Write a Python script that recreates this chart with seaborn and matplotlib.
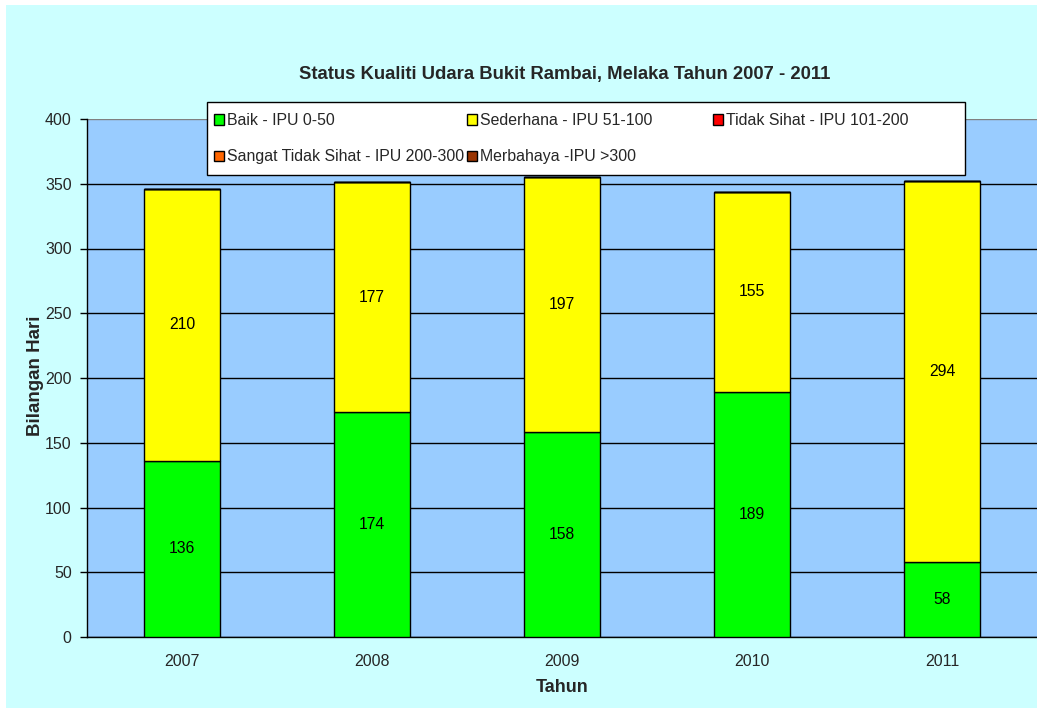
import matplotlib
matplotlib.use("Agg")
import matplotlib.pyplot as plt
import matplotlib.patches as mpatches
import numpy as np
import seaborn as sns

years = ["2007", "2008", "2009", "2010", "2011"]
baik = [136, 174, 158, 189, 58]
sederhana = [210, 177, 197, 155, 294]
tidak_sihat = [0, 0, 0, 0, 0]
sangat_tidak_sihat = [0, 0, 0, 0, 0]
merbahaya = [0, 0, 0, 0, 0]

series_names = ["Baik - IPU 0-50", "Sederhana - IPU 51-100", "Tidak Sihat - IPU 101-200",
                "Sangat Tidak Sihat - IPU 200-300", "Merbahaya -IPU >300"]
series_values = [baik, sederhana, tidak_sihat, sangat_tidak_sihat, merbahaya]
series_colors = ["#00FF00", "#FFFF00", "#FF0000", "#FF6600", "#993300"]

sns.set_style("white")
plt.rcParams['font.family'] = ['Liberation Sans', 'DejaVu Sans']

W, H = 1037, 708
fig = plt.figure(figsize=(W / 100, H / 100), dpi=100, facecolor="white")
# cyan chart area (white strip on top/left edges)
fig.patches.append(mpatches.Rectangle((6 / W, 0), 1 - 6 / W, 1 - 5 / H,
                                      transform=fig.transFigure, facecolor="#CCFFFF",
                                      edgecolor="none", zorder=-10))
ax = fig.add_axes([87 / W, 71 / H, 950 / W, 518 / H])
ax.set_facecolor("#99CCFF")

bottom = np.zeros(len(years))
for name, vals, col in zip(series_names, series_values, series_colors):
    vals = np.array(vals, dtype=float)
    sns.barplot(x=years, y=vals, bottom=bottom, color=col, width=0.4,
                edgecolor="black", linewidth=1.0, saturation=1, ax=ax, zorder=3)
    cont = ax.containers[-1]
    if vals.sum() > 0:
        ax.bar_label(cont, labels=[str(int(v)) for v in vals], label_type="center",
                     fontsize=11.3, color="black")
    bottom = bottom + vals

ax.set_ylim(0, 400)
ax.set_xlim(-0.5, len(years) - 0.5)
ax.set_yticks(np.arange(0, 401, 50))
ax.yaxis.grid(True, color="black", linewidth=1)
ax.set_axisbelow(True)
gl = ax.yaxis.get_gridlines()
gl[-1].set_color("#808080")

ax.set_xticks(np.arange(-0.5, len(years), 1.0), minor=True)
ax.tick_params(axis="x", which="major", length=0, labelsize=11.5, pad=12)
ax.tick_params(axis="x", which="minor", length=5, width=1, color="black", direction="out")
ax.tick_params(axis="y", length=5, width=1, color="black", direction="out", labelsize=11.5,
               left=True, pad=6)
for s in ["top", "right"]:
    ax.spines[s].set_visible(False)
for s in ["left", "bottom"]:
    ax.spines[s].set_color("black")
    ax.spines[s].set_linewidth(1)

ax.set_xlabel("")
ax.set_ylabel("")
fig.text(562 / W, 1 - 688 / H, "Tahun", ha="center", va="center",
         fontsize=13, fontweight="bold")
fig.text(36 / W, 1 - 376 / H, "Bilangan Hari", ha="center", va="center", rotation=90,
         fontsize=13.5, fontweight="bold")
fig.text(565 / W, 1 - 75 / H, "Status Kualiti Udara Bukit Rambai, Melaka Tahun 2007 - 2011",
         ha="center", va="center", fontsize=13.3, fontweight="bold")

# legend: white box with three equal-width columns, filled row by row
fig.patches.append(mpatches.Rectangle((207 / W, 1 - 175 / H), 758 / W, 73 / H,
                                      transform=fig.transFigure, facecolor="white",
                                      edgecolor="black", linewidth=1, zorder=5))
handles = [mpatches.Patch(facecolor=c, edgecolor="black", linewidth=1) for c in series_colors]
col_x = [214, 467, 713]
for ci, x in enumerate(col_x):
    idx = [i for i in range(len(series_names)) if i % 3 == ci]
    lg = fig.legend([handles[i] for i in idx], [series_names[i] for i in idx],
                    loc="upper left", bbox_to_anchor=(x / W, 1 - 113 / H),
                    fontsize=11.4, frameon=False, handlelength=0.62, handleheight=0.62,
                    handletextpad=0.2, labelspacing=1.35, borderpad=0, borderaxespad=0)
    lg.set_zorder(6)

fig.savefig("out.png", dpi=100, facecolor=fig.get_facecolor())
